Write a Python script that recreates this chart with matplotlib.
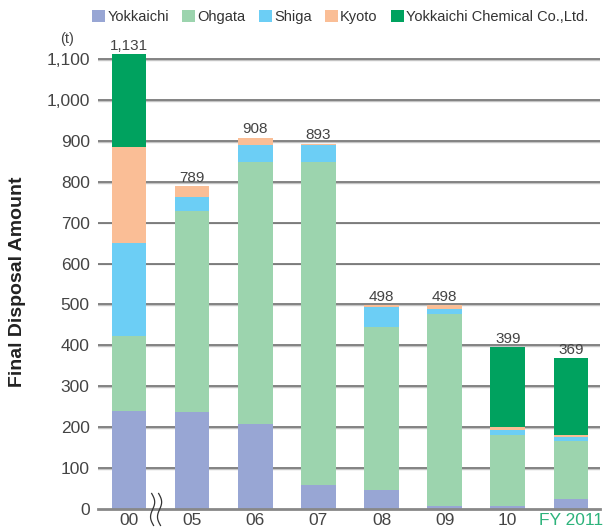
import numpy as np
import matplotlib
matplotlib.use('Agg')
import matplotlib.pyplot as plt
from matplotlib import transforms

plt.rcParams['font.family'] = ['Liberation Sans', 'DejaVu Sans']

# data (t)
years = ['00', '05', '06', '07', '08', '09', '10', 'FY 2011']
yokkaichi = [240, 237, 208, 59, 47, 7, 7, 24]
ohgata = [183, 491, 640, 789, 397, 470, 174, 141]
shiga = [228, 35, 42, 42, 50, 11, 12, 11]
kyoto = [234, 26, 18, 3, 4, 10, 7, 6]
ychem = [227, 0, 0, 0, 0, 0, 196, 187]
totals = [1131, 789, 908, 893, 498, 498, 399, 369]

series = [('Yokkaichi', yokkaichi, '#98a6d4'),
          ('Ohgata', ohgata, '#9cd4ae'),
          ('Shiga', shiga, '#6ccef5'),
          ('Kyoto', kyoto, '#fabe96'),
          ('Yokkaichi Chemical Co.,Ltd.', ychem, '#00a25f')]

fig = plt.figure(figsize=(6.03, 5.32), dpi=100)
ax = fig.add_axes([98/603, 1-509/532, 502/603, (509-38.5)/532])

x = np.arange(len(years))
bottom = np.zeros(len(years))
for name, vals, col in series:
    vals = np.array(vals, dtype=float)
    ax.bar(x, vals, 0.55, bottom=bottom, color=col, label=name, zorder=3)
    bottom += vals

# total labels on top of the stacks
for xi, top, t in zip(x, bottom, totals):
    ax.annotate(f'{t:,}', (xi, top), xytext=(0, 1), textcoords='offset points',
                ha='center', va='bottom', fontsize=11, color='#444444')

ax.set_xlim(-0.49, 7.46)
ax.set_ylim(0, 1150)
yt = np.arange(0, 1101, 100)
ax.set_yticks(yt)
ax.set_yticklabels([f'{v:,}' for v in yt])
for v in yt[1:]:
    ax.axhline(v - 2, color='#c4c4c4', lw=1.0, zorder=1)
    ax.axhline(v, color='#6e6e6e', lw=1.2, zorder=1)
ax.set_xticks(x)
ax.set_xticklabels(years)
ax.tick_params(axis='both', length=0, labelsize=12.5, colors='#444444')
ax.tick_params(axis='y', pad=6)
ax.tick_params(axis='x', pad=3)
ax.get_xticklabels()[-1].set_color('#2db37b')

for s in ['top', 'right', 'left']:
    ax.spines[s].set_visible(False)
ax.spines['bottom'].set_color('#888888')
ax.spines['bottom'].set_linewidth(2)
ax.spines['bottom'].set_zorder(4)

# axis break mark between 00 and 05
tr = transforms.blended_transform_factory(ax.transData, ax.transAxes)
t = np.linspace(0, 1, 60)
for off in (0.36, 0.47):
    ax.plot(off + 0.04 * np.sin(t * 2 * np.pi) + 0.03 * t, -0.035 + 0.068 * (1 - t),
            color='#333333', lw=0.9, transform=tr, clip_on=False, zorder=5)

ax.text(-0.062, 1.0, '(t)', transform=ax.transAxes, ha='center', va='center',
        fontsize=10.5, color='#444444')
fig.text(18/603, 1-282/532, 'Final Disposal Amount', rotation=90, ha='center',
         va='center', fontsize=14, fontweight='bold', color='#222222')

fig.legend(loc='upper left', bbox_to_anchor=(82/603, 1.0), ncol=5, frameon=False,
           fontsize=10.5, handlelength=0.9, handleheight=0.9, handletextpad=0.15,
           columnspacing=0.9, borderaxespad=0.3, labelcolor='#333333')

fig.savefig('out.png', dpi=100)
